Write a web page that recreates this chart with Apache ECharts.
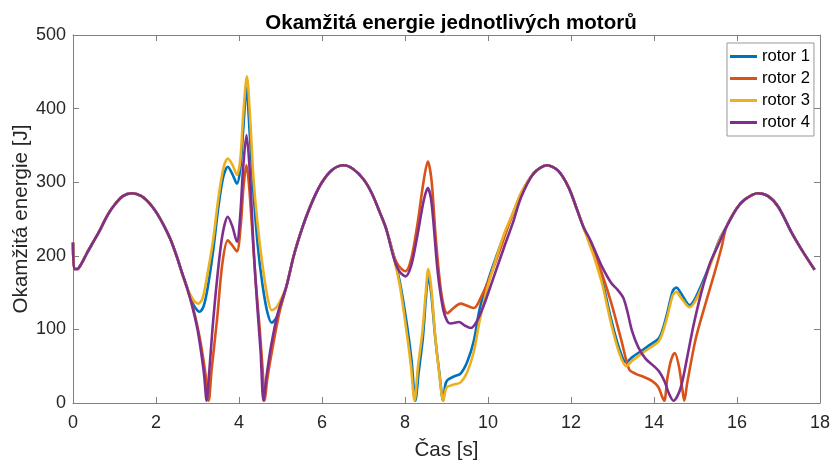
<!DOCTYPE html>
<html>
<head>
<meta charset="utf-8">
<script src="https://cdn.jsdelivr.net/npm/echarts@6/dist/echarts.min.js"></script>
<style>html,body{margin:0;padding:0;background:#fff}#c{width:833px;height:461px}</style>
</head>
<body>
<div id="c"></div>
<script>
const seriesNames = ['rotor 1', 'rotor 2', 'rotor 3', 'rotor 4'];
const xTicks = [0, 2, 4, 6, 8, 10, 12, 14, 16, 18];
const yTicks = [0, 100, 200, 300, 400, 500];

// shared parts of the curves (all four rotors coincide here)
const commonA = [[0,218],[0.03,182],[0.1,182],[0.2,189],[0.33,203],[0.5,220],[0.65,235],[0.8,252],[0.97,267],[1.2,281],[1.42,285],[1.65,281],[1.85,271],[2.02,258],[2.2,240],[2.35,222],[2.5,199],[2.62,178],[2.74,158]];
const commonB = [[5.15,160],[5.31,198],[5.45,225],[5.6,250],[5.8,278],[6.0,300],[6.25,317],[6.52,323],[6.75,318],[7.0,304],[7.2,285],[7.4,258],[7.55,236]];
const commonC = [[11.1,312],[11.42,323],[11.7,315],[11.95,292],[12.15,262],[12.3,239]];
const commonD = [[15.75,240],[16.0,265],[16.2,277],[16.5,285],[16.75,281],[17.0,266],[17.32,231],[17.56,208],[17.87,181]];

// rotor 1
const r1a = [[2.85,140],[2.95,129],[3.05,124],[3.15,132],[3.25,158],[3.38,208],[3.5,265],[3.62,307],[3.73,321],[3.84,311],[3.95,298],[4.03,318],[4.1,370],[4.18,428],[4.26,365],[4.35,285],[4.45,215],[4.56,163],[4.68,124],[4.79,109],[4.9,116],[5.02,135]];
const r1b = [[7.72,202],[7.88,163],[8.05,105],[8.16,57],[8.25,3],[8.33,42],[8.43,88],[8.5,140],[8.56,172],[8.63,150],[8.73,88],[8.83,40],[8.92,3],[8.97,24],[9.02,31],[9.18,36],[9.34,40],[9.5,56],[9.66,85],[9.8,128],[10.0,166],[10.2,199],[10.39,228],[10.6,257],[10.8,285]];
const r1c = [[12.45,218],[12.57,200],[12.75,167],[12.97,113],[13.15,76],[13.33,55],[13.47,62],[13.7,71],[13.9,79],[14.13,89],[14.3,118],[14.45,152],[14.54,157],[14.65,149],[14.86,133],[15.0,143],[15.2,168],[15.4,196],[15.6,225]];

// rotor 2
const r2a = [[2.88,132],[3.0,104],[3.1,74],[3.2,36],[3.27,3],[3.34,45],[3.47,113],[3.6,190],[3.73,221],[3.84,214],[3.95,206],[4.04,240],[4.11,295],[4.18,323],[4.25,290],[4.4,167],[4.5,100],[4.57,45],[4.62,3],[4.68,32],[4.8,72],[4.97,122]];
const r2b = [[7.72,202],[7.85,186],[8.01,179],[8.15,196],[8.3,243],[8.45,302],[8.55,328],[8.64,302],[8.74,225],[8.85,160],[8.94,130],[9.02,122],[9.15,128],[9.34,135],[9.5,132],[9.66,129],[9.85,146],[10.05,172],[10.3,210],[10.55,250],[10.8,283]];
const r2c = [[12.45,218],[12.57,202],[12.75,175],[12.97,136],[13.21,86],[13.4,46],[13.55,40],[13.77,35],[13.95,30],[14.1,22],[14.2,8],[14.25,3],[14.32,33],[14.41,58],[14.5,68],[14.6,50],[14.68,20],[14.73,3],[14.8,27],[15.0,86],[15.22,131],[15.45,175],[15.63,212]];

// rotor 3
const r3a = [[2.85,145],[2.93,138],[3.02,135],[3.12,142],[3.23,172],[3.38,223],[3.5,277],[3.62,318],[3.73,332],[3.84,324],[3.95,310],[4.03,330],[4.1,390],[4.19,444],[4.27,385],[4.35,305],[4.45,242],[4.56,190],[4.68,146],[4.79,126],[4.9,130],[5.02,142]];
const r3b = [[7.72,200],[7.88,158],[8.03,100],[8.14,52],[8.23,3],[8.31,48],[8.42,97],[8.5,150],[8.56,182],[8.63,158],[8.73,90],[8.83,38],[8.92,3],[8.97,16],[9.02,22],[9.18,25],[9.34,28],[9.5,42],[9.66,70],[9.8,112],[10.0,160],[10.2,197],[10.39,230],[10.6,258],[10.8,286]];
const r3c = [[12.45,215],[12.57,196],[12.75,162],[12.97,107],[13.15,70],[13.33,50],[13.47,57],[13.7,67],[13.9,75],[14.13,85],[14.3,113],[14.45,146],[14.54,151],[14.65,143],[14.86,130],[15.0,139],[15.2,164],[15.4,194],[15.6,224]];

// rotor 4
const r4a = [[2.88,130],[3.0,100],[3.08,72],[3.16,38],[3.22,3],[3.28,40],[3.36,100],[3.47,167],[3.6,228],[3.73,253],[3.84,240],[3.95,219],[4.03,255],[4.1,320],[4.18,364],[4.26,315],[4.35,212],[4.44,132],[4.52,70],[4.59,3],[4.66,35],[4.78,80],[4.95,125]];
const r4b = [[7.72,199],[7.85,180],[8.01,172],[8.15,187],[8.3,228],[8.45,275],[8.55,292],[8.64,272],[8.79,177],[8.92,127],[9.02,111],[9.1,108],[9.3,110],[9.45,105],[9.58,102],[9.72,110],[9.9,133],[10.1,165],[10.39,212],[10.6,245],[10.8,280]];
const r4c = [[12.45,223],[12.57,208],[12.75,185],[12.97,163],[13.12,154],[13.26,143],[13.36,124],[13.47,98],[13.62,76],[13.8,60],[14.0,50],[14.12,43],[14.25,30],[14.36,13],[14.47,3],[14.56,9],[14.66,24],[14.8,62],[14.95,105],[15.14,150],[15.35,190],[15.55,215]];

const colors = ['#0072BD', '#D95319', '#EDB120', '#7E2F8E'];
const parts = [[r1a, r1b, r1c], [r2a, r2b, r2c], [r3a, r3b, r3c], [r4a, r4b, r4c]];

function build(p) {
  return [].concat(commonA, p[0], commonB, p[1], commonC, p[2], commonD);
}

const FONT = 'Liberation Sans';
const axisCol = '#808080';
const chart = echarts.init(document.getElementById('c'), null, {renderer: 'canvas'});

const baseX = {
  type: 'value', min: xTicks[0], max: xTicks[xTicks.length - 1], interval: 2,
  axisLine: {show: true, onZero: false, lineStyle: {color: axisCol, width: 1}},
  axisTick: {show: true, inside: true, length: 6, lineStyle: {color: axisCol}},
  splitLine: {show: false}
};
const baseY = {
  type: 'value', min: yTicks[0], max: yTicks[yTicks.length - 1], interval: 100,
  axisLine: {show: true, onZero: false, lineStyle: {color: axisCol, width: 1}},
  axisTick: {show: true, inside: true, length: 6, lineStyle: {color: axisCol}},
  splitLine: {show: false}
};

chart.setOption({
  animation: false,
  backgroundColor: '#fff',
  title: {
    text: 'Okamžitá energie jednotlivých motorů',
    left: 446, top: 8, textAlign: 'center',
    textStyle: {fontFamily: FONT, fontWeight: 'bold', fontSize: 20.5, color: '#000'}
  },
  grid: {left: 73, right: 13, top: 35, bottom: 58, containLabel: false, outerBoundsMode: 'none'},
  legend: {
    orient: 'vertical', left: 727, top: 43,
    data: seriesNames,
    icon: 'rect', itemWidth: 27, itemHeight: 3, itemGap: 5,
    padding: [5, 4, 5, 3],
    borderColor: '#999', borderWidth: 1, backgroundColor: '#fff',
    textStyle: {fontFamily: FONT, fontSize: 16.6, color: '#000', lineHeight: 16}
  },
  xAxis: [
    Object.assign({}, baseX, {
      position: 'bottom',
      name: 'Čas [s]', nameLocation: 'middle', nameGap: 37, nameMoveOverlap: false,
      nameTextStyle: {fontFamily: FONT, fontSize: 20.6, color: '#262626'},
      axisLabel: {fontFamily: FONT, fontSize: 18, color: '#262626', margin: 11}
    }),
    Object.assign({}, baseX, {position: 'top', axisLabel: {show: false}})
  ],
  yAxis: [
    Object.assign({}, baseY, {
      position: 'left',
      name: 'Okamžitá energie [J]', nameLocation: 'middle', nameGap: 41, nameMoveOverlap: false,
      nameTextStyle: {fontFamily: FONT, fontSize: 20.6, color: '#262626'},
      axisLabel: {fontFamily: FONT, fontSize: 18, color: '#262626', margin: 7}
    }),
    Object.assign({}, baseY, {position: 'right', axisLabel: {show: false}})
  ],
  series: seriesNames.map((n, i) => ({
    name: n, type: 'line', xAxisIndex: 0, yAxisIndex: 0,
    data: build(parts[i]),
    smooth: 0.3, symbol: 'none', clip: true,
    lineStyle: {color: colors[i], width: 2.6},
    itemStyle: {color: colors[i]}
  }))
});
</script>
</body>
</html>
